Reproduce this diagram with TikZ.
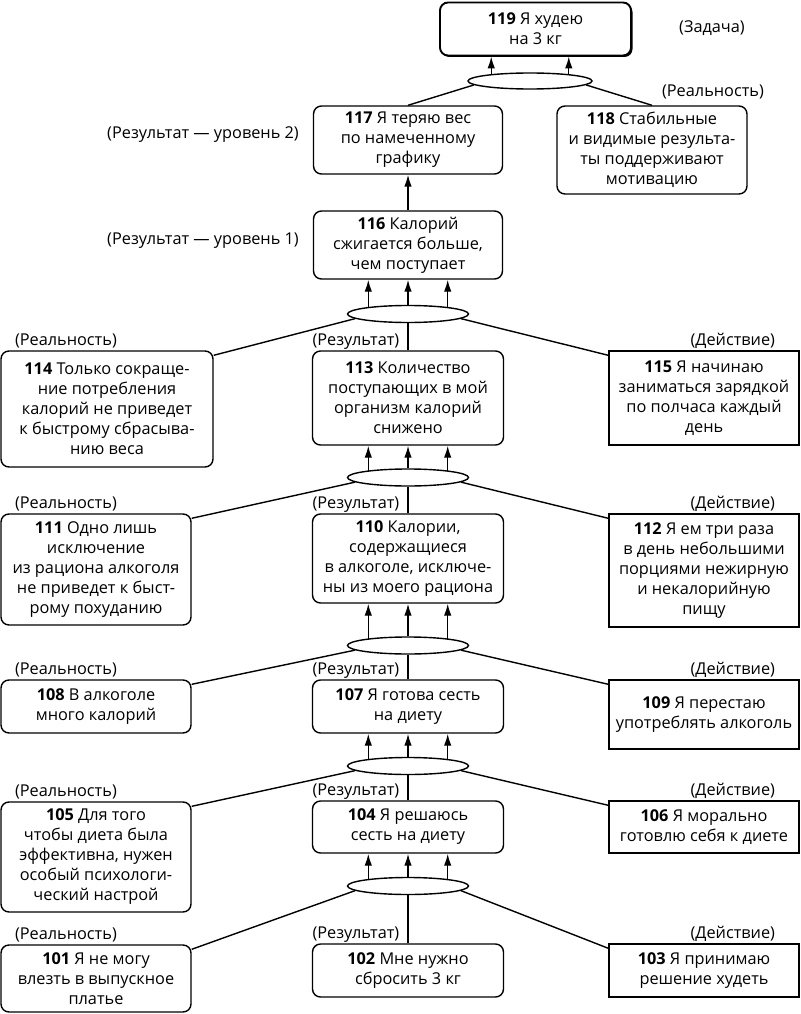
\documentclass[tikz,border=0pt]{standalone}
\usepackage{fontspec}
\setmainfont{Open Sans}
\usetikzlibrary{arrows.meta,shapes.geometric,shadows}

\tikzset{
  rbox/.style={draw, rounded corners=8pt, align=center, inner sep=2pt},
  sbox/.style={draw, align=center, inner sep=2pt},
  link/.style={ellipse, draw, minimum width=121pt, minimum height=17pt, inner sep=0pt},
  tag/.style={inner sep=0pt},
  up/.style={-{Latex[length=12pt,width=7.5pt]}},
}

\begin{document}
\begin{tikzpicture}[x=1pt, y=-1pt, line width=1.4pt, font=\fontsize{16.3}{20}\selectfont]
        \useasboundingbox (0,0) rectangle (800,1014);

        \node[rbox, line width=1.9pt, fill=white, minimum width=191pt, minimum height=53pt,
              drop shadow={shadow xshift=1.5pt, shadow yshift=-1.5pt, opacity=1, fill=black}]
              (n119) at (535.5,29) {\textbf{119} Я худею\\на 3 кг};
        \node[tag] (t119) at (712,28) {(Задача)};
        \node[link, minimum width=124pt, minimum height=16pt] (e1) at (530,81) {};
        \node[tag] (r118) at (713,92) {(Реальность)};

        \node[rbox, minimum width=189pt, minimum height=68pt] (n117) at (408,140) {\textbf{117} Я теряю вес\\по намеченному\\графику};
        \node[rbox, minimum width=190pt, minimum height=88pt] (n118) at (652,150) {\textbf{118} Стабильные\\и видимые результа-\\ты поддерживают\\мотивацию};
        \node[tag] (l117) at (203,135) {(Результат — уровень 2)};
        \node[rbox, minimum width=189pt, minimum height=68pt] (n116) at (408,245) {\textbf{116} Калорий\\сжигается больше,\\чем поступает};
        \node[tag] (l116) at (203,241) {(Результат — уровень 1)};

        \node[link] (e2) at (408,314) {};
        \node[rbox, minimum width=212pt, minimum height=116pt] (n114) at (107,409) {\textbf{114} Только сокраще-\\ние потребления\\калорий не приведет\\к быстрому сбрасыва-\\нию веса};
        \node[rbox, minimum width=191pt, minimum height=94pt] (n113) at (408,398) {\textbf{113} Количество\\поступающих в мой\\организм калорий\\снижено};
        \node[sbox, minimum width=190pt, minimum height=94pt] (n115) at (704,398) {\textbf{115} Я начинаю\\заниматься зарядкой\\по полчаса каждый\\день};

        \node[link] (e3) at (408,477.5) {};
        \node[rbox, minimum width=190pt, minimum height=111pt] (n111) at (96,569.5) {\textbf{111} Одно лишь\\исключение\\из рациона алкоголя\\не приведет к быст-\\рому похуданию};
        \node[rbox, minimum width=191pt, minimum height=89pt] (n110) at (408,558.5) {\textbf{110} Калории,\\содержащиеся\\в алкоголе, исключе-\\ны из моего рациона};
        \node[sbox, minimum width=190pt, minimum height=113pt] (n112) at (704,570.5) {\textbf{112} Я ем три раза\\в день небольшими\\порциями нежирную\\и некалорийную\\пищу};

        \node[link] (e4) at (408,645.5) {};
        \node[rbox, minimum width=190pt, minimum height=53pt] (n108) at (96,706.5) {\textbf{108} В алкоголе\\много калорий};
        \node[rbox, minimum width=191pt, minimum height=53pt] (n107) at (408,706.5) {\textbf{107} Я готова сесть\\на диету};
        \node[sbox, minimum width=190pt, minimum height=69pt] (n109) at (704,714.5) {\textbf{109} Я перестаю\\употреблять алкоголь};

        \node[link] (e5) at (408,766) {};
        \node[rbox, minimum width=190pt, minimum height=110pt] (n105) at (96,857) {\textbf{105} Для того\\чтобы диета была\\эффективна, нужен\\особый психологи-\\ческий настрой};
        \node[rbox, minimum width=191pt, minimum height=52pt] (n104) at (408,827) {\textbf{104} Я решаюсь\\сесть на диету};
        \node[sbox, minimum width=190pt, minimum height=52pt] (n106) at (704,827) {\textbf{106} Я морально\\готовлю себя к диете};

        \node[link] (e6) at (408,886) {};
        \node[rbox, minimum width=190pt, minimum height=67pt] (n101) at (96,978.5) {\textbf{101} Я не могу\\влезть в выпускное\\платье};
        \node[rbox, minimum width=191pt, minimum height=53pt] (n102) at (408,970.5) {\textbf{102} Мне нужно\\сбросить 3 кг};
        \node[sbox, minimum width=190pt, minimum height=53pt] (n103) at (704,970.5) {\textbf{103} Я принимаю\\решение худеть};

        \foreach \b in {114,111,108,105,101}
            \node[tag, anchor=base west] (r\b) at ([xshift=14pt,yshift=5pt]n\b.north west) {(Реальность)};
        \foreach \b in {113,110,107,104,102}
            \node[tag, anchor=base west] (s\b) at ([yshift=5pt]n\b.north west) {(Результат)};
        \foreach \b in {115,112,109,106,103}
            \node[tag, anchor=base east] (a\b) at ([xshift=-24pt,yshift=5pt]n\b.north east) {(Действие)};

        \draw (e1.184) -- (n117.north);
        \draw (e1.-4) -- (n118.north);
        \foreach \a in {10,170}
            \draw[up] (e1.\a) -- (e1.\a |- n119.south);
        \draw[up] (n116.north) -- (n117.south);

        \foreach \e/\t in {e2/n116,e3/n113,e4/n110,e5/n107,e6/n104}
            \foreach \a in {10,90,170}
                \draw[up] (\e.\a) -- (\e.\a |- \t.south);

        \foreach \e/\l/\m/\r in {e2/n114/n113/n115,e3/n111/n110/n112,e4/n108/n107/n109,e5/n105/n104/n106,e6/n101/n102/n103} {
            \draw (\e.185) -- ([yshift=-5pt]\l.north east);
            \draw (\e.south) -- (\m.north);
            \draw (\e.-5) -- ([yshift=-5pt]\r.north west);
        }
    \end{tikzpicture}
\end{document}
